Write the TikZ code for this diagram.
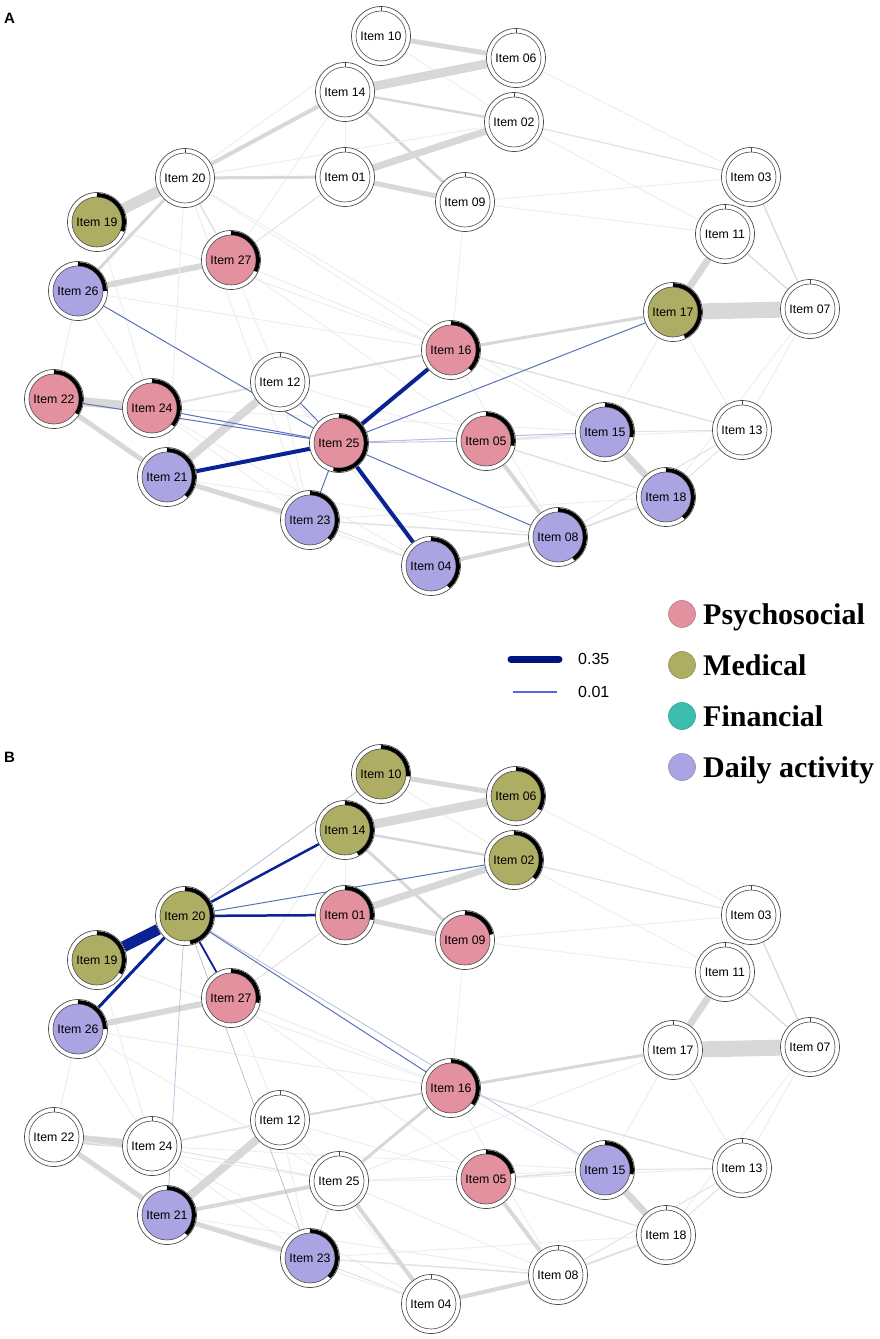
\documentclass[tikz,border=0pt]{standalone}
\usepackage{fontspec}
\setmainfont{Liberation Sans}
\newfontfamily\legendfont{Liberation Serif}
\usetikzlibrary{backgrounds}
\definecolor{psychopink}{HTML}{E3909F}
\definecolor{medolive}{HTML}{AEAD64}
\definecolor{finteal}{HTML}{3BBEAE}
\definecolor{dailylilac}{HTML}{ABA4E2}
\definecolor{edgegray}{HTML}{D8D8D8}
\definecolor{edgelight}{HTML}{E2E2E2}
\definecolor{edgefaint}{HTML}{EEEEEE}
\definecolor{edgenavy}{HTML}{0A2294}
\definecolor{edgeblue}{HTML}{5A72B8}
\definecolor{edgepale}{HTML}{B4BEDC}
\definecolor{legendnavy}{HTML}{00137F}
\definecolor{legendviolet}{HTML}{6060E8}

\begin{document}
\begin{tikzpicture}[
    x=1pt, y=-1pt,
    item/.style 2 args={
        circle,
        minimum size=59pt,
        inner sep=0pt,
        draw=black!70,
        line width=0.7pt,
        fill=white,
        font=\fontsize{12.3}{14}\selectfont,
        path picture={
            \coordinate (pc) at (path picture bounding box.center);
            \draw[black!70, line width=0.6pt, fill=#1] (pc) circle[radius=25pt];
            \draw[black!70, line width=0.6pt] ([yshift=25pt]pc) -- ([yshift=29.5pt]pc);
            \draw[black, line width=3.8pt] ([yshift=27pt]pc) arc[start angle=90, delta angle=-#2, radius=27pt];
        }
    },
    panel/.style={font=\bfseries\fontsize{15}{16}\selectfont, anchor=base west, inner sep=0pt},
    legdot/.style={circle, minimum size=27pt, inner sep=0pt, fill=#1, draw=#1!85!black, line width=0.6pt},
    legtext/.style={font=\legendfont\bfseries\fontsize{30}{32}\selectfont, anchor=base west, inner sep=0pt}
]
\useasboundingbox (0,0) rectangle (880,1339);

% Panel labels
\node[panel] (labA) at (4,23) {A};
\node[panel] (labB) at (4,762) {B};

% Panel A nodes
\foreach \n/\x/\y/\c/\f in {
    10/381/36/white/0, 06/516/58/white/0, 14/345/92/white/0, 02/514/122/white/0,
    01/345/177/white/0, 09/465/202/white/0, 03/751/177/white/0, 20/185/178/white/0,
    19/97/222/medolive/110, 11/725/234/white/0, 27/231/260/psychopink/115,
    26/78/291/dailylilac/90, 17/673/312/medolive/155, 07/810/309/white/0,
    16/451/350/psychopink/136, 12/280/382/white/0, 22/54/399/psychopink/123,
    24/152/408/psychopink/130, 25/339/443/psychopink/192, 05/486/441/psychopink/100,
    15/605/432/dailylilac/101, 13/742/430/white/0, 21/167/477/dailylilac/135,
    18/666/497/dailylilac/140, 23/310/520/dailylilac/135, 08/558/537/dailylilac/145,
    04/431/566/dailylilac/140}
    \node[item={\c}{\f}] (a\n) at (\x,\y) {Item \n};

% Panel B nodes
\foreach \n/\x/\y/\c/\f in {
    10/381/36/medolive/95, 06/516/58/medolive/120, 14/345/92/medolive/152,
    02/514/122/medolive/132, 01/345/177/psychopink/100, 09/465/202/psychopink/78,
    03/751/177/white/0, 20/185/178/medolive/169, 19/97/222/medolive/120,
    11/725/234/white/0, 27/231/260/psychopink/100, 26/78/291/dailylilac/90,
    17/673/312/white/0, 07/810/309/white/0, 16/451/350/psychopink/127,
    12/280/382/white/0, 22/54/399/white/0, 24/152/408/white/0, 25/339/443/white/0,
    05/486/441/psychopink/78, 15/605/432/dailylilac/99, 13/742/430/white/0,
    21/167/477/dailylilac/135, 18/666/497/white/0, 23/310/520/dailylilac/135,
    08/558/537/white/0, 04/431/566/white/0}
    \node[item={\c}{\f}] (b\n) at (\x,\y+738) {Item \n};

\begin{pgfonlayer}{background}
% Edges shared by both panels
\foreach \u/\v/\w/\c in {
    02/11/1/edgefaint, 06/03/1/edgefaint, 09/03/1/edgefaint, 09/11/1/edgefaint,
    13/05/1/edgefaint, 23/18/1/edgefaint, 16/15/1/edgefaint, 22/26/1/edgefaint,
    27/12/1/edgefaint, 17/13/1/edgefaint, 07/13/1/edgefaint, 07/18/1/edgefaint,
    17/15/1/edgefaint, 12/23/1/edgefaint, 12/04/1/edgefaint, 24/23/1/edgefaint,
    24/04/1/edgefaint, 21/04/1/edgefaint, 21/08/1/edgefaint, 26/16/1/edgefaint,
    19/16/1/edgefaint, 14/27/1/edgefaint, 10/02/1/edgefaint, 14/01/1/edgefaint,
    27/16/1/edgefaint, 19/24/1/edgefaint, 26/24/1/edgefaint, 16/08/1/edgefaint,
    09/16/1/edgefaint, 27/05/1/edgefaint, 12/05/1/edgefaint, 24/15/1/edgefaint,
    27/01/1/edgelight, 02/03/1.2/edgelight, 24/12/2/edgelight, 05/15/1.5/edgelight,
    08/18/2/edgelight, 13/18/1/edgelight, 13/08/1/edgelight, 13/16/1.5/edgelight,
    13/15/1/edgelight, 23/04/1/edgelight, 23/08/1.5/edgelight, 05/18/1.5/edgelight,
    10/06/5/edgegray, 14/06/9/edgegray, 14/02/2.5/edgegray, 01/02/7/edgegray,
    01/09/5/edgegray, 14/09/3/edgegray, 26/27/6/edgegray, 11/17/7/edgegray,
    17/07/16/edgegray, 03/07/1.2/edgegray, 11/07/1.2/edgegray, 16/17/3/edgegray,
    16/12/2/edgegray, 22/24/9/edgegray, 22/21/5/edgegray, 21/12/8/edgegray,
    21/23/5/edgegray, 05/08/4/edgegray, 15/18/7/edgegray, 04/08/4/edgegray}
{
    \draw[line width=\w pt, color=\c] (a\u) -- (a\v);
    \draw[line width=\w pt, color=\c] (b\u) -- (b\v);
}

% Panel A: Item 20 in gray, Item 25 in blue
\foreach \u/\v/\w/\c in {
    20/02/1/edgefaint, 20/10/1/edgefaint, 20/16/1/edgefaint, 20/15/1/edgefaint,
    20/21/1/edgefaint, 20/23/1/edgefaint, 20/27/1.5/edgelight,
    20/19/11/edgegray, 20/26/3/edgegray, 20/14/4/edgegray, 20/01/3/edgegray,
    25/15/1/edgepale, 25/05/0.8/edgepale, 25/26/1/edgeblue, 25/17/1/edgeblue,
    25/24/1/edgeblue, 25/22/1/edgeblue, 25/08/1/edgeblue, 25/23/1/edgeblue,
    25/12/1/edgeblue, 25/16/4/edgenavy, 25/21/4/edgenavy, 25/04/4/edgenavy}
    \draw[line width=\w pt, color=\c] (a\u) -- (a\v);

% Panel B: Item 25 in gray, Item 20 in blue
\foreach \u/\v/\w/\c in {
    25/26/1/edgefaint, 25/17/1/edgefaint, 25/22/1/edgefaint, 25/15/1/edgefaint,
    25/08/1/edgefaint, 25/12/1/edgefaint, 25/05/1/edgefaint, 25/24/1/edgelight,
    25/23/1/edgelight, 25/16/3/edgegray, 25/21/4/edgegray, 25/04/4/edgegray,
    20/10/0.8/edgepale, 20/15/0.8/edgepale, 20/21/0.7/edgepale, 20/23/0.7/edgepale,
    20/02/1/edgeblue, 20/16/1/edgeblue, 20/27/1.8/edgenavy, 20/14/2.5/edgenavy,
    20/01/2.5/edgenavy, 20/26/3/edgenavy, 20/19/11/edgenavy}
    \draw[line width=\w pt, color=\c] (b\u) -- (b\v);
\end{pgfonlayer}

% Edge weight legend
\coordinate (thickL) at (511,659);
\coordinate (thickR) at (559,659);
\coordinate (thinL) at (513,692);
\coordinate (thinR) at (557,692);
\draw[legendnavy, line width=7pt, line cap=round] (thickL) -- (thickR);
\draw[legendviolet, line width=1.3pt] (thinL) -- (thinR);
\node[anchor=west, inner sep=0pt, font=\fontsize{16}{18}\selectfont] (thicklab) at (578,659) {0.35};
\node[anchor=west, inner sep=0pt, font=\fontsize{16}{18}\selectfont] (thinlab) at (578,692) {0.01};

% Domain legend
\foreach \k/\c/\t/\y in {psy/psychopink/Psychosocial/614, med/medolive/Medical/665,
    fin/finteal/Financial/716, day/dailylilac/Daily activity/767}
{
    \node[legdot=\c] (dot\k) at (682,\y) {};
    \node[legtext] (txt\k) at (703,\y+10) {\t};
}

\end{tikzpicture}
\end{document}
